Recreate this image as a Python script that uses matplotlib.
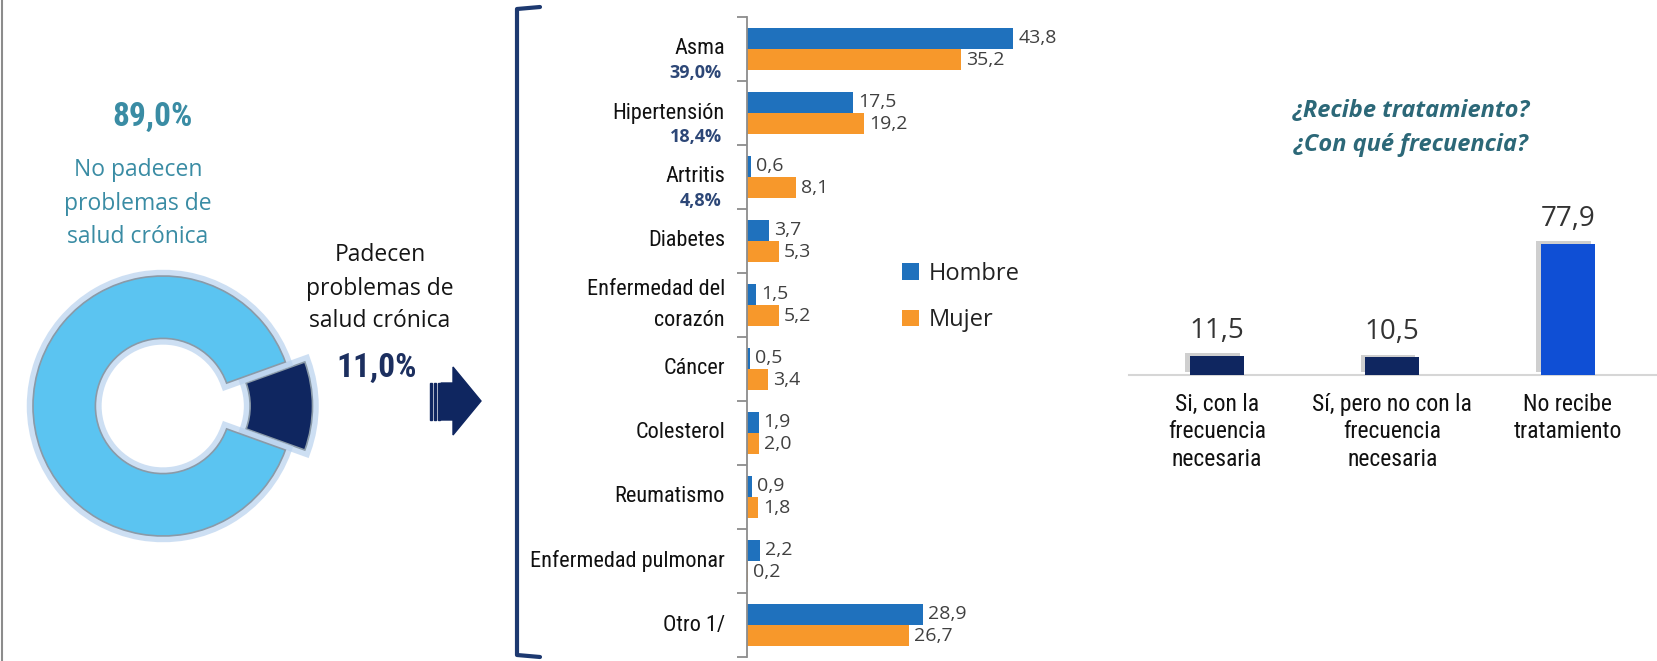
import numpy as np
import matplotlib
matplotlib.use("Agg")
import matplotlib.pyplot as plt
import matplotlib.patheffects as pe
from matplotlib.patches import Polygon, Rectangle
from matplotlib import font_manager as fm

# datos
cronicos_labels = ["Padecen", "No padecen"]
cronicos_pct = [11.0, 89.0]

enfermedades = ["Asma", "Hipertensión", "Artritis", "Diabetes", "Enfermedad del\ncorazón",
                "Cáncer", "Colesterol", "Reumatismo", "Enfermedad pulmonar", "Otro 1/"]
subtotales = ["39,0%", "18,4%", "4,8%", "", "", "", "", "", "", ""]
hombre = [43.8, 17.5, 0.6, 3.7, 1.5, 0.5, 1.9, 0.9, 2.2, 28.9]
mujer = [35.2, 19.2, 8.1, 5.3, 5.2, 3.4, 2.0, 1.8, 0.2, 26.7]

tratamiento = ["Si, con la\nfrecuencia\nnecesaria", "Sí, pero no con la\nfrecuencia\nnecesaria",
               "No recibe\ntratamiento"]
tratamiento_pct = [11.5, 10.5, 77.9]

W, H = 1658, 661
names = {f.name for f in fm.fontManager.ttflist}
narrow_fonts = [n for n in ["Liberation Sans Narrow", "Arial Narrow", "Roboto Condensed"] if n in names]
HAS_NARROW = bool(narrow_fonts)
NARROW = narrow_fonts[0] if HAS_NARROW else "Liberation Sans"
SANS = "Open Sans"

AZUL_H = "#1f71bd"
NARANJA_M = "#f7982b"
TEAL = "#3a8ca4"
NAVY = "#0f2660"


def fmt(v):
    return f"{v:.1f}".replace(".", ",")


fig = plt.figure(figsize=(W / 100, H / 100), dpi=100)


def px_axes(left, top, width, height):
    return fig.add_axes([left / W, 1 - (top + height) / H, width / W, height / H])


# --- dona ---
r_px = 130
ax_d = px_axes(163 - 1.25 * r_px, 406 - 1.25 * r_px, 2.5 * r_px, 2.5 * r_px)
ax_d.set_facecolor("none")
wedges, _ = ax_d.pie(cronicos_pct, colors=[NAVY, "#5bc4f1"], startangle=-cronicos_pct[0] * 1.8,
                     explode=[0.15, 0], radius=1,
                     wedgeprops=dict(width=0.48, edgecolor="#8a9aa8", linewidth=1.2))
for w in wedges:
    w.set_path_effects([pe.withStroke(linewidth=9, foreground="#b9d2ee", alpha=0.7)])
ax_d.set_xlim(-1.25, 1.25)
ax_d.set_ylim(-1.25, 1.25)

# --- barras por enfermedad ---
ax = px_axes(747, 17, 400, 640)
ax.set_facecolor("none")
y = np.arange(len(enfermedades))
bh = 0.33
bars_h = ax.barh(y - bh / 2, hombre, height=bh, color=AZUL_H, label="Hombre")
bars_m = ax.barh(y + bh / 2, mujer, height=bh, color=NARANJA_M, label="Mujer")
ax.set_xlim(0, 400 / 6.08)
ax.set_ylim(len(enfermedades) - 0.5, -0.5)
for s in ["top", "right", "bottom"]:
    ax.spines[s].set_visible(False)
ax.spines["left"].set_color("#8c8c8c")
ax.spines["left"].set_linewidth(1.3)
ax.set_xticks([])
ax.set_yticks([])
ax.set_yticks(np.arange(-0.5, len(enfermedades)), minor=True)
ax.tick_params(axis="y", which="minor", length=7, width=1.3, color="#8c8c8c", direction="out")

lab_size = 16 if HAS_NARROW else 14.4
for i, (h, m) in enumerate(zip(hombre, mujer)):
    ax.annotate(fmt(h), xy=(h, i - bh / 2), xytext=(5, 0), textcoords="offset pixels",
                ha="left", va="center", fontsize=14, family=SANS, color="#404040")
    ax.annotate(fmt(m), xy=(m, i + bh / 2), xytext=(5, 0), textcoords="offset pixels",
                ha="left", va="center", fontsize=14, family=SANS, color="#404040")
    ax.annotate(enfermedades[i], xy=(0, i), xycoords=("axes fraction", "data"),
                xytext=(-22, 0), textcoords="offset pixels", ha="right", va="center",
                fontsize=lab_size, family=NARROW, color="#111111", linespacing=1.65)
    if subtotales[i]:
        ax.annotate(subtotales[i], xy=(0, i), xycoords=("axes fraction", "data"),
                    xytext=(-25, -24), textcoords="offset pixels", ha="right", va="center",
                    fontsize=13, family=SANS, fontweight="bold", color="#2d4777")

leg = ax.legend(handles=[bars_h, bars_m], loc="upper left", bbox_to_anchor=(902 / W, 1 - 262 / H),
                bbox_transform=fig.transFigure, frameon=False, borderpad=0, borderaxespad=0,
                handlelength=0.7, handleheight=0.7, handletextpad=0.45, labelspacing=0.95,
                prop=dict(family=SANS, size=17))
for t in leg.get_texts():
    t.set_color("#222222")

# --- tratamiento ---
ax_t = px_axes(1129, 200, W - 1129, 175)
ax_t.set_facecolor("none")
xt = np.arange(len(tratamiento))
bars_t = ax_t.bar(xt, tratamiento_pct, width=0.31, color=[NAVY, NAVY, "#0f4fd5"], zorder=3)
for b in bars_t:
    b.set_path_effects([pe.SimplePatchShadow(offset=(-3, 2), shadow_rgbFace="#777777", alpha=0.35),
                        pe.Normal()])
ax_t.set_xlim(-0.5, 2.514)
ax_t.set_ylim(0, 175 / 1.68)
for s in ["top", "right", "left"]:
    ax_t.spines[s].set_visible(False)
ax_t.spines["bottom"].set_color("#d6d6d6")
ax_t.spines["bottom"].set_linewidth(1.5)
ax_t.set_xticks([])
ax_t.set_yticks([])
for i, v in enumerate(tratamiento_pct):
    ax_t.annotate(fmt(v), xy=(i, v), xytext=(0, 25), textcoords="offset pixels",
                  ha="center", va="center", fontsize=20, family=SANS, color="#333333")
    ax_t.annotate(tratamiento[i], xy=(i, 0), xytext=(0, -18), textcoords="offset pixels",
                  ha="center", va="top", fontsize=16 if not HAS_NARROW else 17, family=NARROW,
                  color="#111111", linespacing=1.25)

# --- capa de anotaciones ---
ov = fig.add_axes([0, 0, 1, 1], zorder=5)
ov.set_xlim(0, W)
ov.set_ylim(H, 0)
ov.axis("off")

ov.plot([2, 2], [0, H], color="#8c8c8c", lw=1.5)

big = 24 if HAS_NARROW else 21.5
ov.text(153, 117, fmt(cronicos_pct[1]) + "%", ha="center", va="center", fontsize=big,
        family=NARROW, fontweight="bold", color=TEAL)
for yy, line in zip([170, 204, 237], ["No padecen", "problemas de", "salud crónica"]):
    ov.text(138, yy, line, ha="center", va="center", fontsize=16.5, family=SANS, color=TEAL)
for yy, line in zip([255, 289, 321], ["Padecen", "problemas de", "salud crónica"]):
    ov.text(380, yy, line, ha="center", va="center", fontsize=16.5, family=SANS, color="#151515")
ov.text(377, 368, fmt(cronicos_pct[0]) + "%", ha="center", va="center", fontsize=big,
        family=NARROW, fontweight="bold", color="#1c2f5f")

# flecha
ov.add_patch(Polygon([[441, 383], [453, 383], [453, 367], [481, 401], [453, 435],
                      [453, 420], [441, 420]], closed=True, color=NAVY))
for xs in [430, 434, 438]:
    ov.add_patch(Rectangle((xs, 383), 2, 37, color=NAVY))

# corchete
ov.plot([540, 517, 517, 540], [7, 9, 655, 657], color="#1d3970", lw=3,
        solid_joinstyle="round", solid_capstyle="round")

ov.text(1411, 111, "¿Recibe tratamiento?", ha="center", va="center", fontsize=17,
        family=SANS, fontweight="bold", style="italic", color="#2c6878")
ov.text(1411, 145, "¿Con qué frecuencia?", ha="center", va="center", fontsize=17,
        family=SANS, fontweight="bold", style="italic", color="#2c6878")

fig.savefig("out.png", dpi=100)
